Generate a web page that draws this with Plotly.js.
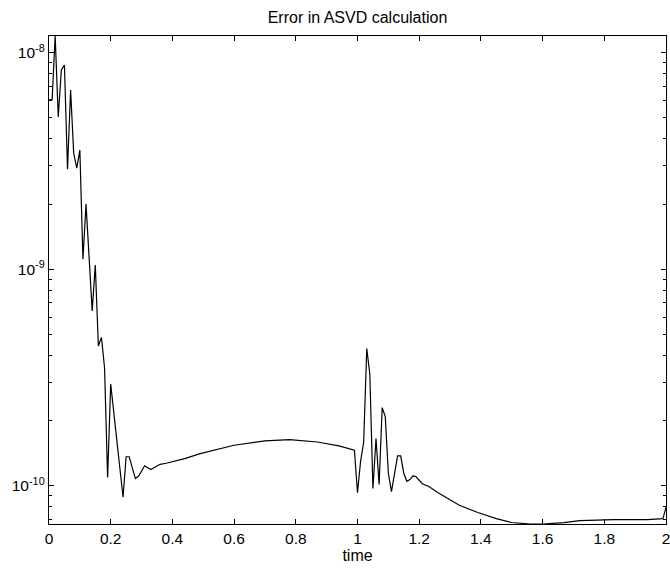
<!DOCTYPE html>
<html>
<head>
<meta charset="utf-8">
<script src="https://cdn.plot.ly/plotly-3.0.1.min.js"></script>
<style>html,body{margin:0;padding:0;background:#fff;}#chart{width:670px;height:568px;}</style>
</head>
<body>
<div id="chart"></div>
<script>
// time (x) values read at the visible vertices of the curve
const time = [
  0.00, 0.01, 0.02, 0.03, 0.04, 0.05, 0.06, 0.07, 0.08, 0.09,
  0.10, 0.11, 0.12, 0.14, 0.15, 0.16, 0.17, 0.18, 0.19, 0.20,
  0.24, 0.25, 0.26, 0.28, 0.29, 0.31, 0.33, 0.36, 0.38, 0.40,
  0.44, 0.49, 0.60, 0.70, 0.78, 0.87, 0.94, 0.99,
  1.00, 1.01, 1.02, 1.03, 1.04, 1.05, 1.06, 1.07, 1.08, 1.09,
  1.10, 1.11, 1.12, 1.13, 1.14, 1.15, 1.16, 1.17, 1.18, 1.19,
  1.21, 1.23, 1.26, 1.33, 1.39, 1.45, 1.50, 1.56, 1.61, 1.67,
  1.72, 1.78, 1.83, 1.94, 1.99, 2.00
];
// error in the ASVD calculation
const asvdError = [
  6.05e-9, 6.05e-9, 1.194e-8, 5.05e-9, 8.32e-9, 8.77e-9, 2.90e-9, 6.73e-9, 3.44e-9, 2.93e-9,
  3.55e-9, 1.114e-9, 2.00e-9, 6.43e-10, 1.046e-9, 4.43e-10, 4.85e-10, 3.52e-10, 1.093e-10, 2.95e-10,
  8.87e-11, 1.364e-10, 1.364e-10, 1.082e-10, 1.109e-10, 1.24e-10, 1.191e-10, 1.259e-10, 1.273e-10, 1.291e-10,
  1.338e-10, 1.411e-10, 1.542e-10, 1.614e-10, 1.638e-10, 1.596e-10, 1.531e-10, 1.462e-10,
  9.30e-11, 1.30e-10, 1.591e-10, 4.31e-10, 3.28e-10, 9.73e-11, 1.655e-10, 1.016e-10, 2.30e-10, 2.09e-10,
  1.145e-10, 9.42e-11, 1.132e-10, 1.376e-10, 1.376e-10, 1.145e-10, 1.051e-10, 1.070e-10, 1.114e-10, 1.103e-10,
  1.024e-10, 9.97e-11, 9.32e-11, 8.14e-11, 7.54e-11, 7.07e-11, 6.78e-11, 6.675e-11, 6.68e-11, 6.78e-11,
  6.92e-11, 6.97e-11, 6.99e-11, 6.99e-11, 7.07e-11, 7.97e-11
];
const xTicks = [0, 0.2, 0.4, 0.6, 0.8, 1, 1.2, 1.4, 1.6, 1.8, 2];
const xTickText = ['0', '0.2', '0.4', '0.6', '0.8', '1', '1.2', '1.4', '1.6', '1.8', '2'];
const yTicks = [1e-10, 1e-9, 1e-8];
const yTickText = ['10<sup>-10</sup>', '10<sup>-9</sup>', '10<sup>-8</sup>'];
const titleText = 'Error in ASVD calculation';
const xTitle = 'time';

const minorY = [];
for (let e = -11; e <= -8; e++) {
  for (let m = 2; m <= 9; m++) minorY.push(m * Math.pow(10, e));
}

const font = 'Liberation Sans, Arial, Helvetica, sans-serif';
const yMin = Math.min(...asvdError), yMax = Math.max(...asvdError);

const trace = {
  x: time, y: asvdError, type: 'scatter', mode: 'lines',
  line: {color: '#000', width: 1.2}, hoverinfo: 'skip'
};

const layout = {
  width: 670, height: 568,
  margin: {l: 49, r: 4, t: 36, b: 44, pad: 0},
  paper_bgcolor: '#fff', plot_bgcolor: '#fff',
  showlegend: false,
  font: {family: font, size: 15.5, color: '#000'},
  title: {
    text: titleText, font: {family: font, size: 16, color: '#000'},
    x: 0.5, xref: 'paper', xanchor: 'center',
    y: 1 - 17 / 568, yref: 'container', yanchor: 'middle'
  },
  xaxis: {
    range: [0, 2], tickmode: 'array', tickvals: xTicks, ticktext: xTickText,
    ticks: 'inside', ticklen: 5, tickwidth: 1, tickcolor: '#000',
    ticklabeloverflow: 'allow',
    showline: true, linecolor: '#000', linewidth: 1.2, mirror: 'ticks',
    showgrid: false, zeroline: false,
    tickfont: {family: font, size: 15.5, color: '#000'},
    title: {text: xTitle, font: {family: font, size: 16, color: '#000'}, standoff: 2}
  },
  yaxis: {
    type: 'log', range: [Math.log10(yMin), Math.log10(yMax)],
    tickmode: 'array', tickvals: yTicks, ticktext: yTickText,
    ticks: 'inside', ticklen: 5, tickwidth: 1, tickcolor: '#000',
    ticklabeloverflow: 'allow',
    minor: {tickmode: 'array', tickvals: minorY, ticks: 'inside', ticklen: 3, tickwidth: 1, tickcolor: '#000', showgrid: false},
    showline: true, linecolor: '#000', linewidth: 1.2, mirror: 'ticks',
    showgrid: false, zeroline: false,
    tickfont: {family: font, size: 15.5, color: '#000'}
  }
};

Plotly.newPlot('chart', [trace], layout, {staticPlot: true, displayModeBar: false});
</script>
</body>
</html>
